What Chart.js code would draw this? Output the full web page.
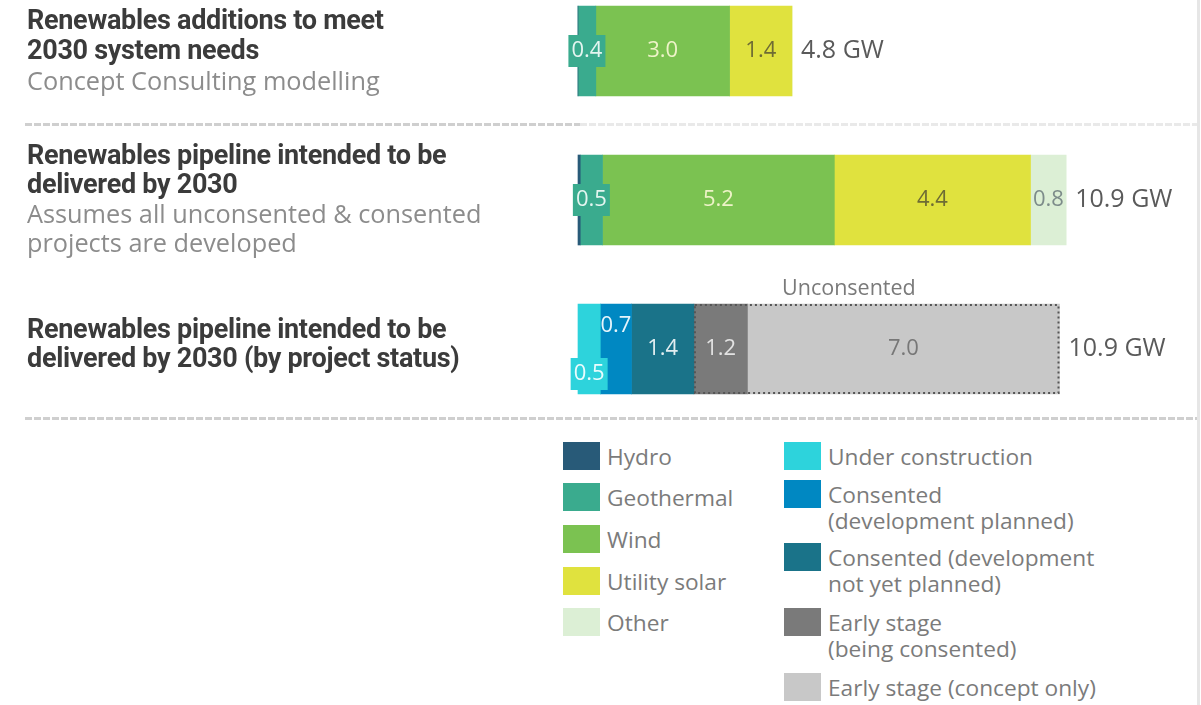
<!DOCTYPE html>
<html>
<head>
<meta charset="utf-8">
<script src="https://cdn.jsdelivr.net/npm/chart.js@4.4.0/dist/chart.umd.min.js"></script>
<style>
  body { margin: 0; width: 1201px; height: 705px; background: #fff; position: relative; overflow: hidden; font-family: 'Open Sans', sans-serif; }
  #pipelineChart { position: absolute; left: 0; top: 0; }
  .block { position: absolute; left: 27px; }
  .title { font-family: Roboto, sans-serif; font-weight: 700; font-size: 27px; color: #3b3b3b; letter-spacing: -0.3px; }
  .sub { font-size: 25.3px; color: #8c8c8c; }
  .sep { position: absolute; left: 25px; height: 3px; background: repeating-linear-gradient(90deg, #cfcfcf 0 7px, transparent 7px 9px); }
  .edge { position: absolute; left: 1197px; top: 0; width: 3px; height: 705px; background: #e6e6e6; }
  .legend-item { position: absolute; display: flex; align-items: flex-start; }
  .swatch { width: 37px; height: 28px; flex: none; }
  .legend-text { margin-left: 7px; font-size: 22.7px; line-height: 26px; color: #7b7b7b; margin-top: 2px; }
</style>
</head>
<body>
<canvas id="pipelineChart" width="1201" height="420"></canvas>

<div class="block" style="top:5px; line-height:30px;">
  <div class="title">Renewables additions to meet<br>2030 system needs</div>
  <div class="sub">Concept Consulting modelling</div>
</div>
<div class="sep" style="top:123px; width:555px;"></div>
<div class="sep" style="top:123px; left:580px; width:617px; opacity:0.45;"></div>

<div class="block" style="top:141px; line-height:29px;">
  <div class="title">Renewables pipeline intended to be<br>delivered by 2030</div>
  <div class="sub">Assumes all unconsented &amp; consented<br>projects are developed</div>
</div>

<div class="block" style="top:315px; line-height:29px;">
  <div class="title">Renewables pipeline intended to be<br>delivered by 2030 (by project status)</div>
</div>
<div class="sep" style="top:417px; width:1172px;"></div>
<div class="edge"></div>

<div id="legend"></div>

<script>
// rows (categories)
const rows = ['Additions to meet 2030 needs', 'Pipeline by technology', 'Pipeline by project status'];

// technology split, GW
const hydro      = [0,   0.05, null];
const geothermal = [0.4, 0.5,  null];
const wind       = [3.0, 5.2,  null];
const solar      = [1.4, 4.4,  null];
const other      = [0,   0.8,  null];

// project status split, GW
const underConstruction   = [null, null, 0.5];
const consentedPlanned    = [null, null, 0.7];
const consentedNotPlanned = [null, null, 1.4];
const earlyConsenting     = [null, null, 1.2];
const earlyConcept        = [null, null, 7.0];

// totals printed at the end of each bar
const totals = [4.8, 10.9, 10.9];

const seriesNames = ['Hydro', 'Geothermal', 'Wind', 'Utility solar', 'Other',
  'Under construction', 'Consented\n(development planned)', 'Consented (development\nnot yet planned)',
  'Early stage\n(being consented)', 'Early stage (concept only)'];
const seriesData = [hydro, geothermal, wind, solar, other,
  underConstruction, consentedPlanned, consentedNotPlanned, earlyConsenting, earlyConcept];
const colors = ['#285a78', '#3aab8e', '#7bc251', '#e0e23e', '#dcefd5',
  '#2dd3dc', '#0088c2', '#1a7389', '#7a7a7a', '#c8c8c8'];
const labelColors = [null, '#e4f5f0', '#eef3c8', '#6e6c34', '#7d8c8a',
  '#eafcfd', '#e6f4fb', '#e3eef1', '#e2e2e2', '#777777'];
const labelShift = [0, 0, 0, 0, 0, 25, -23, 0, 0, 0];
const labelBox = [false, true, false, false, false, true, false, false, false, false];

const datasets = seriesData.map((d, i) => ({
    label: seriesNames[i],
    data: d,
    backgroundColor: colors[i],
    borderWidth: 0,
    barThickness: 90,
    clip: false,
    labelColor: labelColors[i],
    labelDy: labelShift[i],
    labelBox: labelBox[i]
}));

const barLabels = {
    id: 'barLabels',
    afterDatasetsDraw(chart) {
        const ctx = chart.ctx;
        const xScale = chart.scales.x;
        ctx.save();

        // dotted frame round the unconsented part
        const iFirst = seriesData.indexOf(earlyConsenting);
        const iLast = seriesData.indexOf(earlyConcept);
        const a = chart.getDatasetMeta(iFirst).data[2];
        const b = chart.getDatasetMeta(iLast).data[2];
        const top = a.y - a.height / 2;
        ctx.setLineDash([2, 3]);
        ctx.strokeStyle = '#555';
        ctx.lineWidth = 2;
        ctx.strokeRect(a.base + 1, top + 1, b.x - a.base - 2, a.height - 2);
        ctx.setLineDash([]);
        ctx.font = '21.5px "Open Sans"';
        ctx.fillStyle = '#7a7a7a';
        ctx.textAlign = 'center';
        ctx.textBaseline = 'middle';
        ctx.fillText('Unconsented', a.base + 155, top - 15);

        // values inside the bars
        ctx.font = '22px "Open Sans"';
        chart.data.datasets.forEach((ds, i) => {
            const meta = chart.getDatasetMeta(i);
            meta.data.forEach((bar, j) => {
                const v = ds.data[j];
                if (!v || !ds.labelColor) return;
                const cx = (bar.x + bar.base) / 2;
                const cy = bar.y + ds.labelDy;
                if (ds.labelBox) {
                    ctx.fillStyle = ds.backgroundColor;
                    ctx.fillRect(cx - 18.5, cy - 16, 37, 32);
                }
                ctx.fillStyle = ds.labelColor;
                ctx.fillText(v.toFixed(1), cx, cy);
            });
        });

        // totals
        ctx.font = '25px "Open Sans"';
        ctx.fillStyle = '#5a5a5a';
        ctx.textAlign = 'left';
        rows.forEach((r, j) => {
            let sum = 0;
            seriesData.forEach(d => { sum += d[j] || 0; });
            const y = chart.getDatasetMeta(0).data[j].y;
            ctx.fillText(totals[j].toFixed(1) + ' GW', xScale.getPixelForValue(sum) + 9, y);
        });
        ctx.restore();
    }
};

new Chart(document.getElementById('pipelineChart'), {
    type: 'bar',
    data: { labels: rows, datasets: datasets },
    options: {
        indexAxis: 'y',
        responsive: false,
        animation: false,
        layout: { padding: { left: 578, right: 88, top: 51, bottom: 71 } },
        plugins: {
            legend: { display: false },
            tooltip: { enabled: false }
        },
        scales: {
            x: { stacked: true, display: false, min: 0, max: 12 },
            y: { stacked: true, display: false, offset: false }
        }
    },
    plugins: [barLabels]
});

// legend, two columns
const legendTops = [442, 483, 525, 567, 608, 442, 480, 543, 608, 673];
const legend = document.getElementById('legend');
seriesNames.forEach((name, i) => {
    const item = document.createElement('div');
    item.className = 'legend-item';
    item.style.left = (i < 5 ? 563 : 784) + 'px';
    item.style.top = legendTops[i] + 'px';
    const sw = document.createElement('div');
    sw.className = 'swatch';
    sw.style.background = colors[i];
    const txt = document.createElement('div');
    txt.className = 'legend-text';
    txt.innerHTML = name.replace('\n', '<br>');
    item.appendChild(sw);
    item.appendChild(txt);
    legend.appendChild(item);
});
</script>
</body>
</html>
